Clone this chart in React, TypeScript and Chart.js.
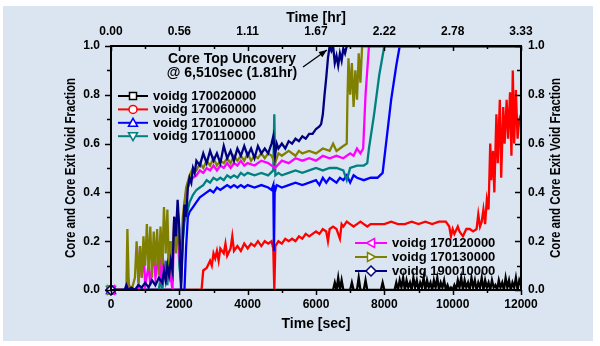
import React, { useEffect, useRef } from "react";
import { Chart, registerables } from "chart.js";
Chart.register(...registerables);

// ---------- data ----------
const secTicks = [0, 2000, 4000, 6000, 8000, 10000, 12000];
const hourTickLabels = ["0.00", "0.56", "1.11", "1.67", "2.22", "2.78", "3.33"];
const fracTicks = [0, 0.2, 0.4, 0.6, 0.8, 1.0];

const seriesLabels = [
  "voidg 170020000",
  "voidg 170060000",
  "voidg 170100000",
  "voidg 170110000",
  "voidg 170120000",
  "voidg 170130000",
  "voidg 190010000",
];
const seriesColors = ["#000000", "#ff0000", "#0000ff", "#008080", "#ff00ff", "#808000", "#000080"];

// [time sec, void fraction]
const s170020000: [number, number][] = [
  [0, 0], [6500, 0], [6550, 0.03], [6600, 0], [6650, 0.05], [6700, 0], [6750, 0.04], [6800, 0],
  [7000, 0], [7050, 0.03], [7100, 0], [7200, 0], [7250, 0.05], [7300, 0], [7400, 0], [7450, 0.04],
  [7500, 0], [7900, 0], [7950, 0.03], [8000, 0], [8300, 0],
  [8350, 0.03], [8400, 0.0], [8450, 0.04], [8500, 0.01], [8550, 0.05], [8600, 0.0], [8650, 0.04],
  [8700, 0.01], [8750, 0.03], [8800, 0.0], [8850, 0.05], [8900, 0.01], [8950, 0.04], [9000, 0.0],
  [9050, 0.03], [9100, 0.01], [9150, 0.05], [9200, 0.0], [9250, 0.04], [9300, 0.01], [9350, 0.03],
  [9400, 0.0], [9450, 0.04], [9500, 0.01], [9550, 0.05], [9600, 0.0], [9650, 0.03], [9700, 0.01],
  [9750, 0.04], [9800, 0.0], [9850, 0.02], [9900, 0.0], [9950, 0.01], [10000, 0.0], [10050, 0.02],
  [10100, 0.0], [10150, 0.04], [10200, 0.01], [10250, 0.05], [10300, 0.0], [10350, 0.04],
  [10400, 0.01], [10450, 0.03], [10500, 0.0], [10550, 0.05], [10600, 0.01], [10650, 0.04],
  [10700, 0.0], [10750, 0.03], [10800, 0.01], [10850, 0.05], [10900, 0.0], [10950, 0.04],
  [11000, 0.01], [11050, 0.03], [11100, 0.0], [11150, 0.04], [11200, 0.01], [11250, 0.02],
  [11300, 0.0], [11350, 0.04], [11400, 0.01], [11450, 0.03], [11500, 0.0], [11550, 0.05],
  [11600, 0.01], [11650, 0.04], [11700, 0.0], [11750, 0.03], [11800, 0.01], [11850, 0.05],
  [11900, 0.0], [11950, 0.04], [12000, 0.02],
];

const s170060000: [number, number][] = [
  [0, 0], [2650, 0], [2700, 0.08], [2800, 0.09], [2900, 0.12], [2950, 0.1], [3000, 0.15], [3050, 0.13],
  [3100, 0.16], [3150, 0.12], [3200, 0.17], [3300, 0.15], [3350, 0.19], [3400, 0.14], [3500, 0.17],
  [3550, 0.22], [3600, 0.16], [3700, 0.18], [3800, 0.16], [3900, 0.19], [4000, 0.17], [4100, 0.19],
  [4200, 0.18], [4300, 0.2], [4400, 0.18], [4500, 0.2], [4600, 0.19], [4700, 0.2], [4750, 0.17],
  [4780, 0.0], [4810, 0.18], [4900, 0.2], [5000, 0.19], [5100, 0.21], [5200, 0.2], [5300, 0.21],
  [5400, 0.2], [5500, 0.22], [5600, 0.21], [5700, 0.23], [5800, 0.22], [5900, 0.23], [6000, 0.24],
  [6100, 0.23], [6200, 0.25], [6300, 0.24], [6350, 0.2], [6400, 0.25], [6500, 0.26], [6600, 0.25],
  [6700, 0.21], [6750, 0.27], [6800, 0.26], [6900, 0.28], [7000, 0.27], [7100, 0.26], [7200, 0.27],
  [7300, 0.28], [7400, 0.27], [7500, 0.26], [7600, 0.27], [7800, 0.27], [8000, 0.27], [8200, 0.28],
  [8400, 0.27], [8600, 0.27], [8800, 0.28], [9000, 0.27], [9200, 0.28], [9400, 0.27], [9600, 0.28],
  [9800, 0.28], [9900, 0.26], [9950, 0.22], [10000, 0.25], [10050, 0.23], [10150, 0.26],
  [10200, 0.24], [10300, 0.22], [10400, 0.25], [10500, 0.25], [10600, 0.24], [10700, 0.25],
  [10750, 0.31], [10800, 0.26], [10850, 0.28], [10900, 0.33], [10950, 0.27], [11000, 0.37],
  [11050, 0.33], [11100, 0.6], [11130, 0.45], [11180, 0.57], [11220, 0.4], [11280, 0.72],
  [11320, 0.52], [11380, 0.78], [11420, 0.46], [11480, 0.75], [11520, 0.6], [11580, 0.78],
  [11620, 0.62], [11680, 0.81], [11720, 0.55], [11760, 0.9], [11800, 0.6], [11850, 0.82],
  [11900, 0.62], [11950, 0.7], [12000, 0.72],
];

const s170100000: [number, number][] = [
  [0, 0], [2150, 0], [2200, 0.18], [2250, 0.3], [2300, 0.32], [2400, 0.34], [2500, 0.36], [2600, 0.38],
  [2700, 0.39], [2800, 0.4], [2900, 0.41], [3000, 0.4], [3100, 0.42], [3200, 0.41], [3300, 0.42],
  [3400, 0.43], [3500, 0.42], [3600, 0.43], [3700, 0.42], [3800, 0.43], [3900, 0.42], [4000, 0.43],
  [4200, 0.42], [4400, 0.43], [4600, 0.42], [4700, 0.41], [4750, 0.43], [4770, 0.16], [4790, 0.4],
  [4850, 0.43], [5000, 0.42], [5200, 0.43], [5400, 0.44], [5600, 0.43], [5800, 0.44], [6000, 0.45],
  [6100, 0.43], [6200, 0.46], [6300, 0.44], [6400, 0.46], [6500, 0.45], [6600, 0.44], [6700, 0.46],
  [6800, 0.45], [6900, 0.47], [7000, 0.44], [7100, 0.47], [7200, 0.46], [7400, 0.45], [7600, 0.46],
  [7800, 0.46], [7950, 0.48], [8050, 0.6], [8200, 0.78], [8350, 0.92], [8450, 1.0], [12000, 1.0],
];

const s170110000: [number, number][] = [
  [0, 0], [1400, 0], [1450, 0.05], [1500, 0.0], [1600, 0.12], [1650, 0.02], [1700, 0.2], [1750, 0.05],
  [1800, 0.15], [1850, 0.25], [1900, 0.18], [1950, 0.28], [2000, 0.1], [2050, 0.03], [2100, 0.2],
  [2150, 0.28], [2200, 0.3], [2300, 0.36], [2400, 0.39], [2500, 0.41], [2600, 0.42], [2700, 0.43],
  [2800, 0.45], [2900, 0.44], [3000, 0.46], [3100, 0.45], [3200, 0.46], [3300, 0.45], [3400, 0.47],
  [3500, 0.46], [3600, 0.47], [3700, 0.46], [3800, 0.48], [3900, 0.47], [4000, 0.48], [4200, 0.47],
  [4400, 0.48], [4600, 0.47], [4750, 0.49], [4780, 0.72], [4810, 0.47], [4900, 0.48], [5000, 0.47],
  [5200, 0.48], [5400, 0.49], [5600, 0.48], [5800, 0.49], [6000, 0.5], [6200, 0.49], [6400, 0.5],
  [6600, 0.5], [6800, 0.49], [6900, 0.45], [7000, 0.5], [7200, 0.51], [7400, 0.51], [7500, 0.52],
  [7550, 0.58], [7700, 0.72], [7850, 0.88], [8000, 1.0], [12000, 1.0],
];

const s170120000: [number, number][] = [
  [0, 0], [450, 0], [500, 0.05], [550, 0], [800, 0], [850, 0.18], [900, 0.05], [950, 0.17], [1000, 0.02],
  [1100, 0.1], [1150, 0.02], [1250, 0.16], [1300, 0.05], [1400, 0.15], [1450, 0.03], [1500, 0.18],
  [1550, 0.05], [1700, 0.1], [1800, 0.0], [1850, 0.3], [1900, 0.2], [1950, 0.3], [2000, 0.15],
  [2050, 0.05], [2100, 0.25], [2150, 0.35], [2200, 0.4], [2300, 0.44], [2400, 0.46], [2500, 0.47],
  [2600, 0.49], [2700, 0.48], [2800, 0.5], [2900, 0.49], [3000, 0.51], [3100, 0.49], [3200, 0.51],
  [3300, 0.5], [3400, 0.52], [3500, 0.5], [3600, 0.52], [3700, 0.51], [3800, 0.53], [3900, 0.51],
  [4000, 0.52], [4200, 0.51], [4400, 0.53], [4600, 0.52], [4800, 0.5], [5000, 0.53], [5200, 0.52],
  [5400, 0.54], [5600, 0.53], [5800, 0.54], [6000, 0.53], [6200, 0.55], [6400, 0.54], [6600, 0.55],
  [6800, 0.54], [7000, 0.56], [7100, 0.55], [7200, 0.58], [7300, 0.56], [7380, 0.58], [7450, 0.8],
  [7500, 0.9], [7550, 1.0], [12000, 1.0],
];

const s170130000: [number, number][] = [
  [0, 0], [450, 0], [480, 0.25], [520, 0.02], [600, 0.0], [700, 0.05], [750, 0.2], [800, 0.03],
  [850, 0.18], [900, 0.05], [950, 0.22], [1000, 0.1], [1050, 0.27], [1100, 0.08], [1150, 0.26],
  [1200, 0.05], [1250, 0.24], [1300, 0.1], [1350, 0.25], [1400, 0.06], [1450, 0.26], [1500, 0.1],
  [1550, 0.34], [1600, 0.15], [1650, 0.33], [1700, 0.05], [1750, 0.2], [1800, 0.1], [1850, 0.3],
  [1900, 0.15], [1950, 0.33], [2000, 0.2], [2050, 0.1], [2100, 0.3], [2200, 0.42], [2300, 0.47],
  [2400, 0.5], [2500, 0.49], [2600, 0.52], [2700, 0.5], [2800, 0.53], [2900, 0.51], [3000, 0.54],
  [3100, 0.51], [3200, 0.53], [3300, 0.52], [3400, 0.54], [3500, 0.52], [3600, 0.55], [3700, 0.53],
  [3800, 0.55], [3900, 0.53], [4000, 0.56], [4100, 0.53], [4200, 0.55], [4300, 0.54], [4400, 0.56],
  [4500, 0.54], [4600, 0.56], [4700, 0.55], [4800, 0.52], [4900, 0.56], [5000, 0.55], [5200, 0.57],
  [5400, 0.55], [5500, 0.57], [5600, 0.56], [5800, 0.57], [6000, 0.56], [6200, 0.58], [6400, 0.57],
  [6500, 0.6], [6600, 0.57], [6700, 0.58], [6800, 0.59], [6900, 0.6], [6920, 0.78], [6950, 0.95],
  [7000, 0.8], [7050, 0.93], [7100, 0.75], [7150, 0.9], [7200, 0.78], [7250, 0.97], [7300, 0.85],
  [7350, 1.0], [12000, 1.0],
];

const s190010000: [number, number][] = [
  [0, 0], [400, 0], [450, 0.02], [500, 0], [600, 0.01], [700, 0], [800, 0.02], [900, 0.01], [1000, 0.03],
  [1100, 0.01], [1200, 0.04], [1300, 0.02], [1400, 0.05], [1500, 0.03], [1550, 0.08], [1600, 0.04],
  [1650, 0.1], [1700, 0.06], [1750, 0.12], [1800, 0.08], [1850, 0.3], [1900, 0.22], [1950, 0.37],
  [2000, 0.25], [2050, 0.0], [2100, 0.2], [2150, 0.35], [2200, 0.3], [2250, 0.42], [2300, 0.46],
  [2350, 0.44], [2400, 0.5], [2450, 0.48], [2500, 0.53], [2600, 0.51], [2700, 0.56], [2800, 0.52],
  [2900, 0.57], [3000, 0.53], [3100, 0.56], [3200, 0.52], [3300, 0.59], [3400, 0.54], [3500, 0.57],
  [3600, 0.53], [3700, 0.58], [3800, 0.55], [3900, 0.59], [4000, 0.55], [4100, 0.58], [4200, 0.54],
  [4300, 0.59], [4400, 0.56], [4500, 0.58], [4600, 0.56], [4700, 0.6], [4750, 0.63], [4800, 0.55],
  [4850, 0.6], [4900, 0.58], [5000, 0.6], [5100, 0.58], [5200, 0.61], [5300, 0.6], [5400, 0.62],
  [5500, 0.61], [5600, 0.63], [5700, 0.62], [5800, 0.64], [5900, 0.64], [6000, 0.66], [6100, 0.67],
  [6150, 0.68], [6200, 0.72], [6250, 0.8], [6300, 0.87], [6350, 0.95], [6400, 1.0], [6450, 0.98],
  [6500, 1.0], [6550, 0.93], [6600, 0.96], [6650, 0.92], [6700, 0.97], [6750, 0.94], [6800, 0.99],
  [6850, 0.97], [6900, 1.0], [12000, 1.0],
];

const seriesData = [s170020000, s170060000, s170100000, s170110000, s170120000, s170130000, s190010000];
const markerStyles = ["square", "circle", "triUp", "triDown", "triLeft", "triRight", "diamond"];

const annotationLines = ["Core Top Uncovery", "@ 6,510sec (1.81hr)"];

// ---------- drawing helpers ----------
const FONT = "'Liberation Sans', Arial, sans-serif";

function markerPath(ctx: CanvasRenderingContext2D, style: string, x: number, y: number) {
  const s = 4;
  ctx.beginPath();
  switch (style) {
    case "square":
      ctx.rect(x - s + 0.5, y - s + 0.5, 2 * s - 1, 2 * s - 1);
      break;
    case "circle":
      ctx.arc(x, y, s, 0, Math.PI * 2);
      break;
    case "triUp":
      ctx.moveTo(x, y - s - 0.5); ctx.lineTo(x + s + 0.5, y + s - 0.5); ctx.lineTo(x - s - 0.5, y + s - 0.5); ctx.closePath();
      break;
    case "triDown":
      ctx.moveTo(x, y + s + 0.5); ctx.lineTo(x + s + 0.5, y - s + 0.5); ctx.lineTo(x - s - 0.5, y - s + 0.5); ctx.closePath();
      break;
    case "triLeft":
      ctx.moveTo(x - s - 0.5, y); ctx.lineTo(x + s - 0.5, y - s - 0.5); ctx.lineTo(x + s - 0.5, y + s + 0.5); ctx.closePath();
      break;
    case "triRight":
      ctx.moveTo(x + s + 0.5, y); ctx.lineTo(x - s + 0.5, y - s - 0.5); ctx.lineTo(x - s + 0.5, y + s + 0.5); ctx.closePath();
      break;
    default:
      ctx.moveTo(x, y - s - 1); ctx.lineTo(x + s + 1, y); ctx.lineTo(x, y + s + 1); ctx.lineTo(x - s - 1, y); ctx.closePath();
  }
}

function drawMarker(ctx: CanvasRenderingContext2D, style: string, x: number, y: number, color: string) {
  markerPath(ctx, style, x, y);
  ctx.fillStyle = "#ffffff";
  ctx.fill();
  ctx.strokeStyle = color;
  ctx.lineWidth = 1.5;
  ctx.stroke();
}

const decorPlugin = {
  id: "decor",
  afterDraw(chart: any) {
    const ctx: CanvasRenderingContext2D = chart.ctx;
    const { left, right, top, bottom } = chart.chartArea;
    const xs = chart.scales.x;
    const ys = chart.scales.y;
    ctx.save();

    // start markers at first data point
    seriesData.forEach((d, i) => {
      drawMarker(ctx, markerStyles[i], xs.getPixelForValue(d[0][0]), ys.getPixelForValue(d[0][1]), seriesColors[i]);
    });

    // frame
    ctx.strokeStyle = "#000";
    ctx.lineWidth = 2;
    ctx.strokeRect(left, top, right - left, bottom - top);

    // ticks
    ctx.lineWidth = 1.5;
    ctx.beginPath();
    for (let v = 0; v <= 12000; v += 1000) {
      const px = Math.round(xs.getPixelForValue(v)) + 0.5;
      const major = v % 2000 === 0;
      const len = major ? 5 : 3;
      ctx.moveTo(px, bottom); ctx.lineTo(px, bottom + len);
      ctx.moveTo(px, top); ctx.lineTo(px, top + len);
    }
    for (let k = 0; k <= 10; k++) {
      const v = k / 10;
      const py = Math.round(ys.getPixelForValue(v)) + 0.5;
      const major = k % 2 === 0;
      const len = major ? 6 : 4;
      ctx.moveTo(left - len, py); ctx.lineTo(left, py);
      ctx.moveTo(right - len, py); ctx.lineTo(right, py);
    }
    ctx.stroke();

    // axis titles
    ctx.fillStyle = "#000";
    ctx.textAlign = "center";
    ctx.textBaseline = "middle";
    ctx.font = `bold 14px ${FONT}`;
    const cx = (left + right) / 2;
    ctx.fillText("Time [hr]", cx, 18);
    ctx.fillText("Time [sec]", cx, 324);
    const cy = (top + bottom) / 2;
    const yTitle = "Core and Core Exit Void Fraction";
    [71, 556].forEach((x) => {
      ctx.save();
      ctx.translate(x, cy);
      ctx.rotate(-Math.PI / 2);
      ctx.fillText(yTitle, 0, 0, 180);
      ctx.restore();
    });

    // annotation
    ctx.font = `bold 14px ${FONT}`;
    const ax = xs.getPixelForValue(3540);
    ctx.fillText(annotationLines[0], ax, ys.getPixelForValue(0.947));
    ctx.fillText(annotationLines[1], ax, ys.getPixelForValue(0.89));
    const x0 = xs.getPixelForValue(5620), y0 = ys.getPixelForValue(0.914);
    const x1 = xs.getPixelForValue(6320), y1 = ys.getPixelForValue(0.984);
    ctx.strokeStyle = "#000";
    ctx.lineWidth = 1.3;
    ctx.beginPath();
    ctx.moveTo(x0, y0); ctx.lineTo(x1, y1);
    ctx.stroke();
    const ang = Math.atan2(y1 - y0, x1 - x0);
    ctx.beginPath();
    ctx.moveTo(x1, y1);
    ctx.lineTo(x1 - 8 * Math.cos(ang) + 3.2 * Math.sin(ang), y1 - 8 * Math.sin(ang) - 3.2 * Math.cos(ang));
    ctx.lineTo(x1 - 8 * Math.cos(ang) - 3.2 * Math.sin(ang), y1 - 8 * Math.sin(ang) + 3.2 * Math.cos(ang));
    ctx.closePath();
    ctx.fillStyle = "#000";
    ctx.fill();

    // legends
    ctx.font = `bold 13px ${FONT}`;
    ctx.textAlign = "left";
    const legend = (idx: number[], lx: number, ly: number, lw: number, dy: number) => {
      idx.forEach((i, k) => {
        const y = ly + k * dy;
        ctx.strokeStyle = seriesColors[i];
        ctx.lineWidth = 2;
        ctx.beginPath();
        ctx.moveTo(lx, y); ctx.lineTo(lx + lw, y);
        ctx.stroke();
        drawMarker(ctx, markerStyles[i], lx + lw / 2, y, seriesColors[i]);
        ctx.fillStyle = "#000";
        ctx.fillText(seriesLabels[i], lx + lw + 5, y + 0.5);
      });
    };
    legend([0, 1, 2, 3], 118, 96, 30, 13.4);
    legend([4, 5, 6], 355, 243, 32, 14);

    ctx.restore();
  },
};

export default function App() {
  const ref = useRef<HTMLCanvasElement>(null);
  useEffect(() => {
    document.body.style.margin = "0";
    const tickFont = { family: FONT, size: 12, weight: "bold" as const };
    const chart = new Chart(ref.current as HTMLCanvasElement, {
      type: "line",
      data: {
        datasets: seriesData.map((d, i) => ({
          label: seriesLabels[i],
          data: d.map(([x, y]) => ({ x, y })),
          borderColor: seriesColors[i],
          borderWidth: 2.3,
          pointRadius: 0,
          tension: 0,
          fill: false,
          order: 6 - i,
        })),
      },
      options: {
        responsive: false,
        animation: false,
        devicePixelRatio: 1,
        layout: { padding: 0 },
        plugins: { legend: { display: false }, tooltip: { enabled: false } },
        scales: {
          x: {
            type: "linear",
            position: "bottom",
            min: 0,
            max: 12000,
            afterBuildTicks: (s: any) => { s.ticks = secTicks.map((v) => ({ value: v })); },
            ticks: { font: tickFont, color: "#000", padding: 7, maxRotation: 0, callback: (v: any) => String(v) },
            grid: { display: false, drawTicks: false },
            border: { display: false },
            afterFit: (s: any) => { s.height = 56; },
          },
          x2: {
            type: "linear",
            position: "top",
            min: 0,
            max: 12000,
            afterBuildTicks: (s: any) => { s.ticks = secTicks.map((v) => ({ value: v })); },
            ticks: { font: tickFont, color: "#000", padding: 7, maxRotation: 0, callback: (_v: any, i: number) => hourTickLabels[i] },
            grid: { display: false, drawTicks: false },
            border: { display: false },
            afterFit: (s: any) => { s.height = 46; },
          },
          y: {
            type: "linear",
            position: "left",
            min: 0,
            max: 1,
            afterBuildTicks: (s: any) => { s.ticks = fracTicks.map((v) => ({ value: v })); },
            ticks: { font: tickFont, color: "#000", padding: 11, callback: (v: any) => Number(v).toFixed(1) },
            grid: { display: false, drawTicks: false },
            border: { display: false },
            afterFit: (s: any) => { s.width = 111; },
          },
          y2: {
            type: "linear",
            position: "right",
            min: 0,
            max: 1,
            afterBuildTicks: (s: any) => { s.ticks = fracTicks.map((v) => ({ value: v })); },
            ticks: { font: tickFont, color: "#000", padding: 7, callback: (v: any) => Number(v).toFixed(1) },
            grid: { display: false, drawTicks: false },
            border: { display: false },
            afterFit: (s: any) => { s.width = 79; },
          },
        },
      },
      plugins: [decorPlugin],
    } as any);
    return () => chart.destroy();
  }, []);
  return (
    <div style={{ position: "relative", width: 600, height: 346, background: "#ffffff" }}>
      <div style={{ position: "absolute", left: 3, top: 6, width: 590, height: 335, background: "#dbe5f1" }} />
      <canvas ref={ref} width={600} height={346} style={{ position: "absolute", left: 0, top: 0, width: 600, height: 346 }} />
    </div>
  );
}
